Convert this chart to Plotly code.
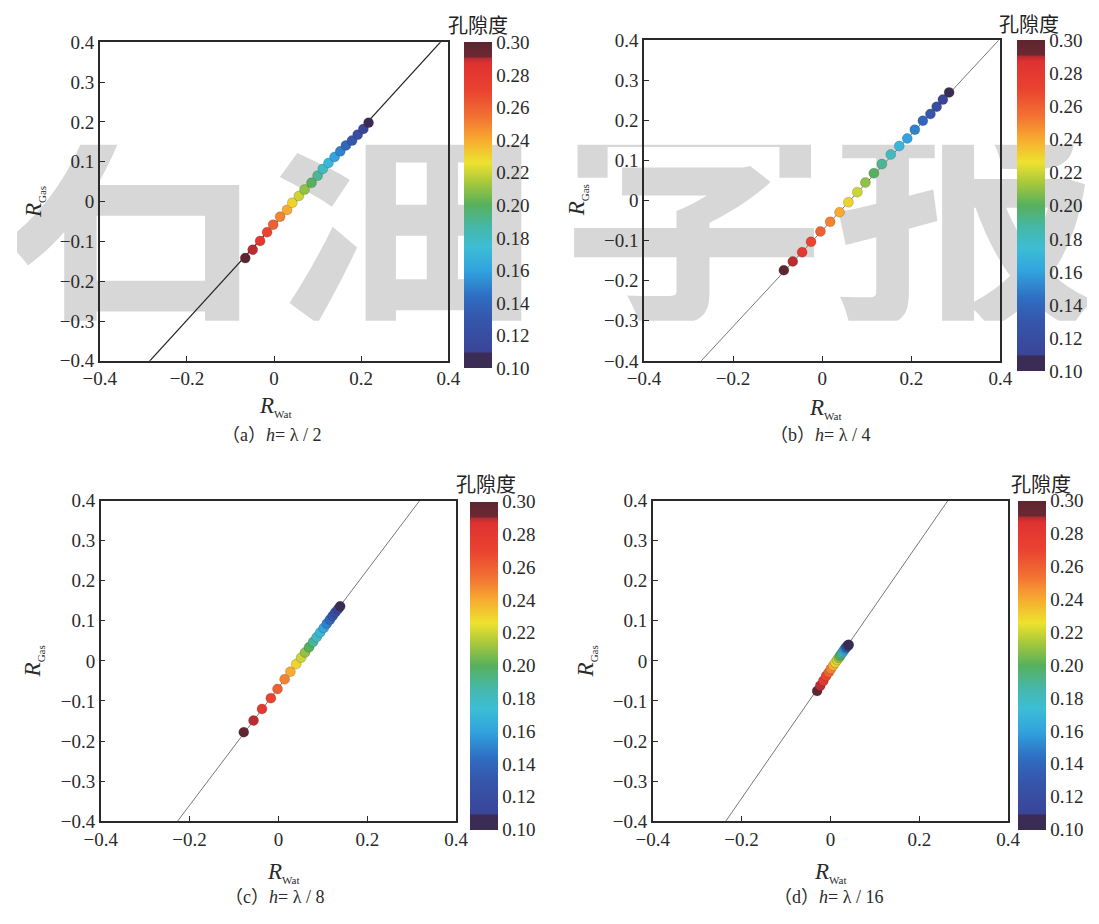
import plotly.graph_objects as go

W, H = 1099, 924

# ---------------- data ----------------
POROSITY = [0.30, 0.29, 0.28, 0.27, 0.26, 0.25, 0.24, 0.23, 0.22, 0.21, 0.20,
            0.19, 0.18, 0.17, 0.16, 0.15, 0.14, 0.13, 0.12, 0.11, 0.10]

# (a) h = λ/2
RW_A = [-0.066, -0.049, -0.032, -0.016, -0.002, 0.014, 0.030, 0.042, 0.057, 0.070, 0.086,
        0.100, 0.112, 0.125, 0.139, 0.152, 0.165, 0.179, 0.192, 0.205, 0.217]
RG_A = [-0.142, -0.121, -0.099, -0.077, -0.058, -0.038, -0.021, -0.003, 0.014, 0.030, 0.047,
        0.065, 0.082, 0.097, 0.112, 0.126, 0.141, 0.153, 0.168, 0.182, 0.198]
FIT_A = (1.200, -0.058)   # slope, intercept of the fitted line

# (b) h = λ/4
RW_B = [-0.086, -0.066, -0.045, -0.025, -0.004, 0.018, 0.039, 0.059, 0.079, 0.097, 0.116,
        0.134, 0.154, 0.173, 0.191, 0.208, 0.226, 0.243, 0.257, 0.271, 0.285]
RG_B = [-0.174, -0.152, -0.129, -0.103, -0.077, -0.053, -0.029, -0.004, 0.021, 0.045, 0.068,
        0.091, 0.115, 0.136, 0.155, 0.177, 0.199, 0.216, 0.234, 0.252, 0.270]
FIT_B = (1.198, -0.0746)

# (c) h = λ/8
RW_C = [-0.078, -0.056, -0.037, -0.017, -0.002, 0.014, 0.027, 0.040, 0.051, 0.060, 0.069,
        0.078, 0.086, 0.094, 0.102, 0.109, 0.116, 0.122, 0.128, 0.134, 0.139]
RG_C = [-0.178, -0.149, -0.120, -0.093, -0.070, -0.046, -0.027, -0.008, 0.008, 0.021, 0.034,
        0.047, 0.059, 0.071, 0.082, 0.093, 0.103, 0.112, 0.121, 0.129, 0.136]
FIT_C = (1.468, -0.0668)

# (d) h = λ/16
RW_D = [-0.030, -0.023, -0.016, -0.010, -0.004, 0.001, 0.006, 0.011, 0.015, 0.019, 0.022,
        0.025, 0.028, 0.030, 0.032, 0.034, 0.036, 0.037, 0.039, 0.040, 0.041]
RG_D = [-0.075, -0.062, -0.050, -0.038, -0.029, -0.020, -0.012, -0.004, 0.002, 0.008, 0.013,
        0.018, 0.022, 0.026, 0.029, 0.032, 0.034, 0.036, 0.038, 0.039, 0.040]
FIT_D = (1.600, -0.023)

CAPTIONS = ["（a）<i>h</i>= λ / 2", "（b）<i>h</i>= λ / 4",
            "（c）<i>h</i>= λ / 8", "（d）<i>h</i>= λ / 16"]
CBAR_TICKS = [0.10, 0.12, 0.14, 0.16, 0.18, 0.20, 0.22, 0.24, 0.26, 0.28, 0.30]
WATERMARK = ["石", "油", "学", "报"]

# ---------------- styling ----------------
SERIF = "Liberation Serif, DejaVu Serif, serif"
CJK = "Noto Sans CJK SC, sans-serif"
INK = "#2a2a2a"

COLORSCALE = [
    [0.000, "#3a2c55"], [0.045, "#3a2c55"], [0.050, "#3b4598"],
    [0.150, "#3556ab"], [0.220, "#2f6ec2"], [0.300, "#31a3de"],
    [0.370, "#3dbdd5"], [0.430, "#45b8ab"], [0.500, "#56b05d"],
    [0.570, "#a9c83b"], [0.630, "#ede22e"], [0.700, "#f8ab30"],
    [0.770, "#f27232"], [0.850, "#ea4330"], [0.935, "#df3231"],
    [0.950, "#b82c32"], [0.955, "#6c2832"], [1.000, "#5e2630"],
]

# pixel layout of each panel: frame (left, right, top, bottom), colorbar (left, top, length)
PANELS = [
    dict(rw=RW_A, rg=RG_A, fit=FIT_A, frame=(85, 443, 33, 359), cbar=(459, 33, 326),
         line_color="#222222", line_width=1.2, ylab=(18, 197), xlab=(265, 406), cap=(261, 435),
         ctitle=(474, 15)),
    dict(rw=RW_B, rg=RG_B, fit=FIT_B, frame=(644, 1010, 31, 359), cbar=(1027, 31, 331),
         line_color="#777777", line_width=1.0, ylab=(576, 195), xlab=(830, 408), cap=(825, 435),
         ctitle=(1039, 14)),
    dict(rw=RW_C, rg=RG_C, fit=FIT_C, frame=(86, 451, 502, 830), cbar=(465, 503, 328),
         line_color="#777777", line_width=1.0, ylab=(17, 667), xlab=(274, 883), cap=(264, 908),
         ctitle=(482, 484)),
    dict(rw=RW_D, rg=RG_D, fit=FIT_D, frame=(653, 1018, 502, 830), cbar=(1028, 502, 329),
         line_color="#777777", line_width=1.0, ylab=(585, 667), xlab=(836, 883), cap=(833, 908),
         ctitle=(1052, 484)),
]


def px_x(v):
    return v / W


def px_y(v):
    return 1 - v / H


fig = go.Figure()
layout = dict(
    width=W, height=H,
    margin=dict(l=0, r=0, t=0, b=0),
    paper_bgcolor="white",
    plot_bgcolor="rgba(0,0,0,0)",
    showlegend=False,
    annotations=[],
)

# background watermark band (first subplot, so it sits beneath the panels)
BAND_TOP, BAND_BOTTOM = 138, 318
layout["xaxis"] = dict(domain=[0, 1], range=[0, W], visible=False, fixedrange=True)
layout["yaxis"] = dict(domain=[px_y(BAND_BOTTOM), px_y(BAND_TOP)], range=[BAND_BOTTOM, BAND_TOP],
                       visible=False, fixedrange=True)
fig.add_trace(go.Scatter(
    x=[122, 398, 695, 975], y=[232, 232, 232, 232], mode="text", text=WATERMARK,
    textposition="middle center",
    textfont=dict(size=268, color="rgb(215,215,215)", family=CJK, weight="bold"),
    cliponaxis=True, hoverinfo="skip", xaxis="x", yaxis="y",
))

SUB = '<sub><span style="font-size:11px">{}</span></sub>'

for i, p in enumerate(PANELS):
    n = i + 2
    xa, ya = f"xaxis{n}", f"yaxis{n}"
    xr, yr = f"x{n}", f"y{n}"
    left, right, top, bottom = p["frame"]
    common = dict(
        range=[-0.4, 0.4], tick0=0, ticks="inside", ticklen=5, tickwidth=1, tickcolor=INK,
        showline=True, linecolor=INK, linewidth=1.5, mirror=True,
        showgrid=False, zeroline=False, fixedrange=True,
        tickfont=dict(family=SERIF, size=19, color=INK),
    )
    layout[xa] = dict(common, domain=[px_x(left), px_x(right)], dtick=0.2, anchor=yr)
    layout[ya] = dict(common, domain=[px_y(bottom), px_y(top)], dtick=0.1, anchor=xr)

    # fitted line across the full axis range
    k, b = p["fit"]
    xs = [-0.4, 0.4]
    fig.add_trace(go.Scatter(
        x=xs, y=[k * v + b for v in xs], mode="lines",
        line=dict(color=p["line_color"], width=p["line_width"]),
        hoverinfo="skip", xaxis=xr, yaxis=yr,
    ))

    cl, ct, clen = p["cbar"]
    fig.add_trace(go.Scatter(
        x=p["rw"], y=p["rg"], mode="markers", xaxis=xr, yaxis=yr, cliponaxis=False,
        marker=dict(
            size=10, color=POROSITY, colorscale=COLORSCALE, cmin=0.10, cmax=0.30,
            line=dict(width=0.5, color="rgba(40,40,40,0.4)"),
            showscale=True,
            colorbar=dict(
                x=px_x(cl), xanchor="left", y=px_y(ct), yanchor="top",
                len=clen, lenmode="pixels", thickness=28, thicknessmode="pixels",
                outlinewidth=0, xpad=0, ypad=0,
                tickmode="array", tickvals=CBAR_TICKS,
                ticktext=[f"{v:.2f}" for v in CBAR_TICKS], ticks="",
                tickfont=dict(family=SERIF, size=19, color=INK),
            ),
        ),
    ))

    ann = layout["annotations"]
    ann.append(dict(text="孔隙度", x=px_x(p["ctitle"][0]), y=px_y(p["ctitle"][1]),
                    xref="paper", yref="paper", showarrow=False,
                    xanchor="center", yanchor="middle",
                    font=dict(family=CJK, size=20, color="#222222")))
    ann.append(dict(text="<i>R</i>" + SUB.format("Gas"), x=px_x(p["ylab"][0]), y=px_y(p["ylab"][1]),
                    xref="paper", yref="paper", showarrow=False, textangle=-90,
                    xanchor="center", yanchor="middle",
                    font=dict(family=SERIF, size=23, color=INK)))
    ann.append(dict(text="<i>R</i>" + SUB.format("Wat"), x=px_x(p["xlab"][0]), y=px_y(p["xlab"][1]),
                    xref="paper", yref="paper", showarrow=False,
                    xanchor="center", yanchor="middle",
                    font=dict(family=SERIF, size=23, color=INK)))
    ann.append(dict(text=CAPTIONS[i], x=px_x(p["cap"][0]), y=px_y(p["cap"][1]),
                    xref="paper", yref="paper", showarrow=False,
                    xanchor="center", yanchor="middle",
                    font=dict(family=SERIF + ", Noto Sans CJK SC", size=18, color=INK)))

fig.update_layout(**layout)
fig.write_html("out.html")
